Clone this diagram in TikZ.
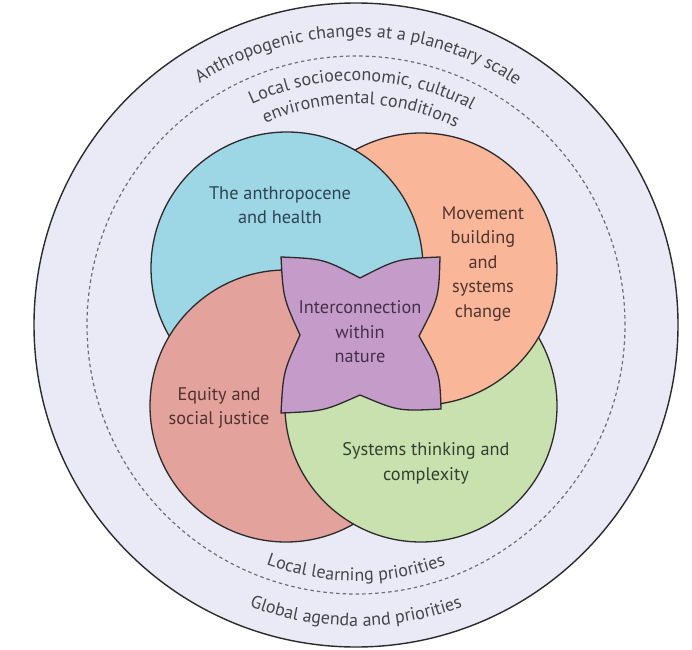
\documentclass[tikz,border=0pt]{standalone}
\usepackage{fontspec}
\setmainfont{PT Sans}
\usetikzlibrary{decorations.text}
\definecolor{ringbg}{HTML}{E9EAF5}
\definecolor{cblue}{HTML}{9DD6E5}
\definecolor{corange}{HTML}{F9B699}
\definecolor{cred}{HTML}{E3A29C}
\definecolor{cgreen}{HTML}{C9E0AF}
\definecolor{cpurple}{HTML}{C59CC9}
\definecolor{outl}{HTML}{2B2B2B}
\definecolor{dashgray}{HTML}{6A6E78}
\definecolor{outtext}{HTML}{44464C}
\definecolor{tblue}{HTML}{2C4550}
\definecolor{torange}{HTML}{513530}
\definecolor{tred}{HTML}{503230}
\definecolor{tgreen}{HTML}{344030}
\definecolor{tpurple}{HTML}{45304C}
\newcommand{\curvefont}{\fontsize{18}{21}\selectfont}
\begin{document}
\begin{tikzpicture}[x=1pt,y=1pt,
  circ/.style={draw=outl, line width=1.3pt},
  lbl/.style={align=center, font=\fontsize{18.3}{24.5}\selectfont},
  curvetext/.style={decorate, decoration={text along path, text align=center, text={#1}}}
]
\useasboundingbox (0,0) rectangle (692,649);
\fill[white] (0,0) rectangle (692,649);
\coordinate (C) at (356,324);
\coordinate (B) at (287,381);
\coordinate (O) at (421,380);
\coordinate (R) at (286,243);
\coordinate (G) at (421,243);
% rings
\filldraw[fill=ringbg, draw=outl, line width=1.4pt] (C) circle[radius=322];
\draw[dashgray, line width=1.2pt, dash pattern=on 3.5pt off 3pt] (C) circle[radius=269];
% four woven circles
\filldraw[circ, fill=cblue] (B) circle[radius=136];
\filldraw[circ, fill=cred] (R) circle[radius=136];
\filldraw[circ, fill=cgreen] (G) circle[radius=136];
\filldraw[circ, fill=corange] (O) circle[radius=136];
\begin{scope}
  \clip (O) circle[radius=138];
  \filldraw[circ, fill=cblue] (B) circle[radius=136];
\end{scope}
\begin{scope}
  \clip (O) circle[radius=138];
  \clip (B) circle[radius=138];
  \filldraw[circ, fill=cred] (R) circle[radius=136];
\end{scope}
% star
\filldraw[fill=cpurple, draw=outl, line width=1.3pt]
  (281,392) .. controls (323.6,390.2) .. (360,371)
  .. controls (397.4,390.2) .. (440,392)
  .. controls (438.8,351.0) .. (419,313)
  .. controls (439.8,276.0) .. (441,240)
  .. controls (398.4,237.8) .. (360,254)
  .. controls (323.6,237.8) .. (281,236)
  .. controls (283.2,277.0) .. (300,314)
  .. controls (283.2,351.0) .. cycle;
% labels
\node[lbl, text=tblue] (anth) at (280,444) {The anthropocene\\and health};
\node[lbl, text=torange] (move) at (483,385) {Movement\\building\\and\\systems\\change};
\node[lbl, text=tred] (equity) at (219,241) {Equity and\\social justice};
\node[lbl, text=tgreen] (systems) at (426,185.5) {Systems thinking and\\complexity};
\node[lbl, text=tpurple] (inter) at (360,317) {Interconnection\\within\\nature};
% curved texts
\path[shift={(C)}, curvetext={|\curvefont\color{outtext}|Anthropogenic changes at a planetary scale}]
  (149.5:288) arc[start angle=149.5, end angle=29.5, radius=288];
\path[shift={(C)}, curvetext={|\curvefont\color{outtext}|Local socioeconomic{,} cultural}]
  (148.5:244) arc[start angle=148.5, end angle=28.5, radius=244];
\path[shift={(C)}, curvetext={|\curvefont\color{outtext}|environmental conditions}]
  (148.7:221) arc[start angle=148.7, end angle=28.7, radius=221];
\path[shift={(C)}, curvetext={|\curvefont\color{outtext}|Local learning priorities}]
  (210:256) arc[start angle=210, end angle=330, radius=256];
\path[shift={(C)}, curvetext={|\curvefont\color{outtext}|Global agenda and priorities}]
  (210:301) arc[start angle=210, end angle=330, radius=301];
\end{tikzpicture}
\end{document}
